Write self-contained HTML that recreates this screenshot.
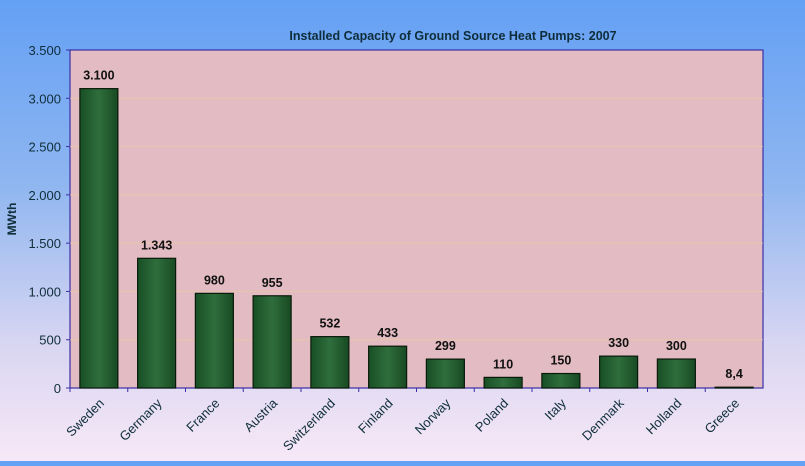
<!DOCTYPE html>
<html><head><meta charset="utf-8"><style>
body{margin:0;width:805px;height:461px;overflow:hidden;background:linear-gradient(#64a0f4 0%,#8fb6f0 40%,#d9d6f2 75%,#f7e8f6 100%);font-family:"Liberation Sans",sans-serif}
</style></head><body>
<svg width="805" height="461" xmlns="http://www.w3.org/2000/svg">
<defs>
<linearGradient id="bg" x1="0" y1="0" x2="1" y2="0"><stop offset="0" stop-color="#184f25"/><stop offset="0.5" stop-color="#2f6e3c"/><stop offset="1" stop-color="#184a23"/></linearGradient>
</defs>
<text x="453" y="40" text-anchor="middle" font-size="12.5" font-weight="bold" fill="#0f2e3a">Installed Capacity of Ground Source Heat Pumps: 2007</text>
<rect x="70" y="50" width="693" height="338" fill="#e2bcc2" stroke="#3a2fa8" stroke-width="1.2"/>
<g id="grid"></g><g id="yaxis"></g><g id="bars"></g><g id="xaxis"></g>
<text transform="translate(16,219) rotate(-90)" text-anchor="middle" font-size="12" font-weight="bold" fill="#0f2e3a">MWth</text>
</svg>
<script>
const categories=["Sweden","Germany","France","Austria","Switzerland","Finland","Norway","Poland","Italy","Denmark","Holland","Greece"];
const values=[3100,1343,980,955,532,433,299,110,150,330,300,8.4];
const valueLabels=["3.100","1.343","980","955","532","433","299","110","150","330","300","8,4"];
const yTicks=[0,500,1000,1500,2000,2500,3000,3500];
const yTickLabels=["0","500","1.000","1.500","2.000","2.500","3.000","3.500"];
const NS="http://www.w3.org/2000/svg";
const X0=70,W=693,Y0=388,H=338,YMAX=3500;
const y=v=>Y0-v/YMAX*H;
const step=W/categories.length;
const xc=i=>X0+step*(i+0.5);
function mk(t,a,p){const e=document.createElementNS(NS,t);for(const k in a)e.setAttribute(k,a[k]);p.appendChild(e);return e;}
const gy=document.getElementById('yaxis'),gb=document.getElementById('bars'),gx=document.getElementById('xaxis'),gg=document.getElementById('grid');
yTicks.forEach((v,i)=>{
 if(v>0&&v<YMAX){const g=mk('line',{x1:X0,x2:X0+W,y1:y(v),y2:y(v),stroke:'#e9c9a0','stroke-width':0.7},gg);
 
 }
 const t=mk('text',{x:X0-9,y:y(v)+5,'text-anchor':'end','font-size':13,fill:'#0f2e3a'},gy);
 t.textContent=yTickLabels[i];
 
 
 mk('line',{x1:X0-4,x2:X0,y1:y(v),y2:y(v),stroke:'#3a2fa8'},gy);
});
categories.forEach((c,i)=>{
 const r=mk('rect',{x:xc(i)-19,y:y(values[i]),width:38,height:Y0-y(values[i]),fill:'url(#bg)',stroke:'#0a1a0a','stroke-width':1.2},gb);
 
 
 const l=mk('text',{x:xc(i),y:y(values[i])-9,'text-anchor':'middle','font-size':12.5,'font-weight':'bold',fill:'#111'},gb);
 l.textContent=valueLabels[i];
 
 
 const t=mk('text',{transform:`translate(${xc(i)+6},${Y0+16}) rotate(-45)`,'text-anchor':'end','font-size':13,fill:'#0f2e3a'},gx);
 t.textContent=c;
 
 
 mk('line',{x1:X0+step*i,x2:X0+step*i,y1:Y0,y2:Y0+4,stroke:'#3a2fa8'},gx);
});
</script>
</body></html>
